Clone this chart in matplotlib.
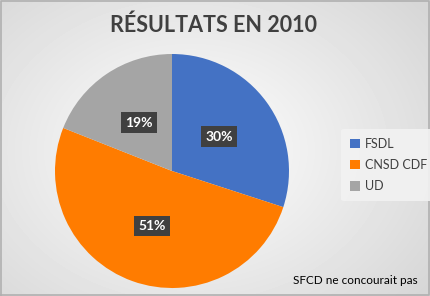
import numpy as np
import matplotlib.pyplot as plt

plt.rcParams['font.family'] = ['Lato', 'DejaVu Sans']

labels = ['FSDL', 'CNSD CDF', 'UD']
values = [30, 51, 19]
colors = ['#4472c4', '#ff7c00', '#a5a5a5']

fig = plt.figure(figsize=(4.30, 2.96), dpi=100)

# radial gradient background
bg = fig.add_axes([0, 0, 1, 1])
yy, xx = np.mgrid[0:296, 0:430]
d = np.sqrt(((xx - 190) / 300.0) ** 2 + ((yy - 150) / 230.0) ** 2)
shade = 1.0 - 0.16 * np.clip(d, 0, 1)
bg.imshow(shade, cmap='gray', vmin=0, vmax=1, extent=[0, 1, 0, 1], aspect='auto')
bg.set_xlim(0, 1)
bg.set_ylim(0, 1)
bg.axis('off')
bg.plot([0.002, 0.998, 0.998, 0.002, 0.002], [0.002, 0.002, 0.998, 0.998, 0.002],
        color='#b0b0b0', lw=1.2)

ax = fig.add_axes([55 / 430, 1 - 288 / 296, 234 / 430, 234 / 296])
wedges, texts, autotexts = ax.pie(values, colors=colors, startangle=90, counterclock=False,
                                  autopct='%d%%', pctdistance=0.5,
                                  wedgeprops=dict(linewidth=0))
for t in autotexts:
    t.set_color('white')
    t.set_fontweight('bold')
    t.set_fontsize(10)
    t.set_bbox(dict(boxstyle='square,pad=0.3', facecolor='#404040', edgecolor='none'))
ax.set_xlim(-1, 1)
ax.set_ylim(-1, 1)
ax.set_aspect('equal')

fig.text(0.497, 0.915, 'RÉSULTATS EN 2010', ha='center', va='center',
         fontsize=15.5, fontweight='bold', color='#404040')

leg = fig.legend(wedges, labels, loc='center left', bbox_to_anchor=(335 / 430, 1 - 165 / 296),
                 frameon=True, fontsize=9, handlelength=0.8, handleheight=0.8,
                 labelspacing=0.75, borderpad=0.7, handletextpad=0.4)
leg.get_frame().set_facecolor('#f2f2f2')
leg.get_frame().set_edgecolor('none')
leg.get_frame().set_alpha(0.9)
for t in leg.get_texts():
    t.set_color('#404040')

fig.text(0.972, 1 - 280 / 296, 'SFCD ne concourait pas', ha='right', va='center',
         fontsize=8.5, color='black')

fig.savefig('out.png', dpi=100)
